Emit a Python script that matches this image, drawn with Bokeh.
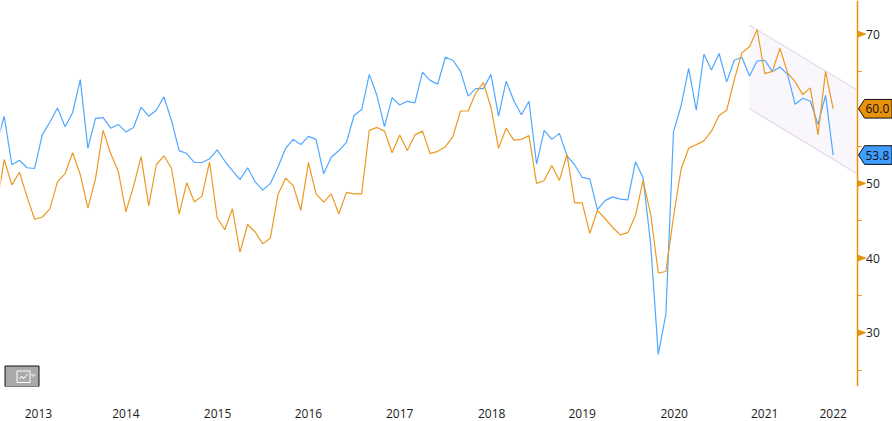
from bokeh.plotting import figure
from bokeh.embed import file_html
from bokeh.resources import INLINE
from bokeh.models import FixedTicker, Range1d, PolyAnnotation, Label, LinearAxis

blue = [55.3,59.0,52.5,53.1,52.1,52.0,56.5,58.2,60.1,57.6,59.5,63.9,54.7,58.7,58.8,57.4,57.9,56.9,57.5,60.2,
        59.0,59.8,61.6,58.4,54.4,54.0,52.8,52.8,53.3,54.5,53.0,51.7,50.5,52.1,50.2,49.1,50.0,52.2,54.7,55.9,
        55.2,56.3,55.9,51.3,53.5,54.4,55.5,59.1,59.9,64.6,61.8,57.6,61.5,60.5,61.0,60.8,64.9,63.8,63.3,66.9,
        66.5,65.0,61.7,62.7,62.7,64.6,59.0,63.7,61.1,59.2,61.0,52.6,57.1,55.9,56.7,53.7,52.5,50.8,50.6,46.5,
        47.7,48.2,47.9,47.8,52.9,50.8,41.9,27.1,32.5,56.9,60.4,65.4,59.8,67.3,65.2,67.4,63.6,66.5,66.9,64.4,
        66.4,66.5,65.0,65.6,64.6,60.6,61.4,61.0,57.9,61.8,53.8]
orange = [47.0,53.2,49.8,51.5,48.2,45.2,45.5,46.6,50.2,51.3,54.1,51.2,46.7,50.6,57.1,54.0,51.6,46.2,49.6,53.6,
          47.0,52.5,53.7,52.0,45.9,50.1,47.5,48.3,52.9,45.4,43.8,46.6,40.8,44.5,43.5,41.9,42.7,48.5,50.7,49.7,
          46.4,52.8,48.6,47.5,48.6,45.9,48.8,48.6,48.6,57.1,57.5,57.0,54.1,56.5,54.4,56.5,57.0,54.0,54.3,54.9,
          56.3,59.7,59.7,62.1,63.5,60.2,54.7,57.4,55.8,55.9,56.4,50.0,50.4,52.4,50.4,53.9,47.4,47.4,43.3,46.4,
          45.3,44.1,43.1,43.4,45.7,50.4,45.9,38.0,38.2,45.5,51.9,54.7,55.2,55.7,57.0,59.1,59.8,63.9,67.5,68.3,
          70.6,64.7,65.0,68.1,64.8,63.6,61.9,62.8,56.5,65.0,60.0]
months = list(range(len(blue)))
year_labels = ["2013","2014","2015","2016","2017","2018","2019","2020","2021","2022"]
year_ticks = [5.5,17.0,29.05,41.0,53.0,65.1,77.0,89.1,101.0,110.0]
y_ticks = [25,30,35,40,45,50,55,60,65,70]
y_labelled = [30,40,50,70]
channel_x = [99.0,113.14]
channel_top = [71.2,62.5]
channel_bottom = [60.0,51.3]

ORANGE="#e8920c"; BLUE="#3f9dff"; TEXT="#1c1c1c"; FONT="Open Sans"
AXIS_AT = 113.14

p = figure(width=892, height=421, output_backend="svg", toolbar_location=None,
           x_range=Range1d(0.51,117.8), y_range=Range1d(22.8,74.5),
           y_axis_location=None, min_border_left=0, min_border_top=0,
           min_border_right=0, min_border_bottom=35, outline_line_color=None)
p.grid.visible=False

p.varea(channel_x, channel_bottom, channel_top, fill_color="#faf7fc")
p.line(channel_x, channel_top, line_color="#e2d8ea", line_width=1.2)
p.line(channel_x, channel_bottom, line_color="#e2d8ea", line_width=1.2)
p.line(months, blue, line_color="#4ea8ff", line_width=1.2)
p.line(months, orange, line_color="#ea9a22", line_width=1.2)

xa=p.xaxis[0]
xa.ticker=FixedTicker(ticks=year_ticks)
xa.major_label_overrides=dict(zip(year_ticks,year_labels))
xa.axis_line_color=None; xa.major_tick_line_color=None; xa.minor_tick_line_color=None
xa.major_label_standoff=16
xa.major_label_text_font=FONT; xa.major_label_text_font_size="12px"; xa.major_label_text_color=TEXT

ya=LinearAxis(fixed_location=AXIS_AT)
ya.ticker=FixedTicker(ticks=y_ticks)
ya.major_label_overrides={t:(str(t) if t in y_labelled else "") for t in y_ticks}
ya.axis_line_color=ORANGE; ya.axis_line_width=1.5
ya.major_tick_line_color=ORANGE; ya.major_tick_out=4; ya.major_tick_in=0
ya.minor_tick_line_color=None
ya.major_label_standoff=5
ya.major_label_text_font=FONT; ya.major_label_text_font_size="12px"; ya.major_label_text_color=TEXT
p.add_layout(ya,"right")

for t in y_labelled:
    p.add_layout(PolyAnnotation(xs=[857,865,857], ys=[t+0.4,t,t-0.4], xs_units="screen", ys_units="data",
                                fill_color=ORANGE, fill_alpha=1, line_color=ORANGE, line_alpha=1))

for series,col,txt in ((orange,ORANGE,"60.0"),(blue,BLUE,"53.8")):
    v=series[-1]
    p.add_layout(PolyAnnotation(xs=[858,864,891.5,891.5,864], ys=[v,v+1.25,v+1.25,v-1.25,v-1.25],
                                xs_units="screen", ys_units="data", fill_color=col, fill_alpha=1,
                                line_color="#111111", line_alpha=1, line_width=1))
    p.add_layout(Label(x=865, y=v, x_units="screen", y_units="data", text=txt, text_font=FONT,
                       text_font_size="12px", text_color="#111111", text_baseline="middle", text_align="left"))

# small chart-type button in the corner (screen y counted from the frame bottom)
def up(ys): return [386-y for y in ys]
p.add_layout(PolyAnnotation(xs=[4.5,38.5,38.5,4.5], ys=up([365.5,365.5,386,386]), xs_units="screen", ys_units="screen",
                            fill_color="#a9a9a9", fill_alpha=1, line_color="#111111", line_alpha=1, line_width=1))
p.add_layout(PolyAnnotation(xs=[16.5,29.5,29.5,16.5], ys=up([370.5,370.5,382,382]), xs_units="screen", ys_units="screen",
                            fill_color="#a9a9a9", fill_alpha=1, line_color="#ffffff", line_alpha=1, line_width=1))
p.add_layout(PolyAnnotation(xs=[18.5,21,23,27.5,23,21], ys=up([378.5,375.5,377.5,373.5,378.5,376.5]), xs_units="screen", ys_units="screen",
                            fill_color="#ffffff", fill_alpha=1, line_color="#ffffff", line_alpha=1, line_width=0.5))
p.add_layout(PolyAnnotation(xs=[30,35.5,32.7], ys=up([374,374,376.5]), xs_units="screen", ys_units="screen",
                            fill_color="#d8d8d8", fill_alpha=1, line_color="#d8d8d8", line_alpha=1, line_width=0.5))

open("out.html","w").write(file_html(p, INLINE))
